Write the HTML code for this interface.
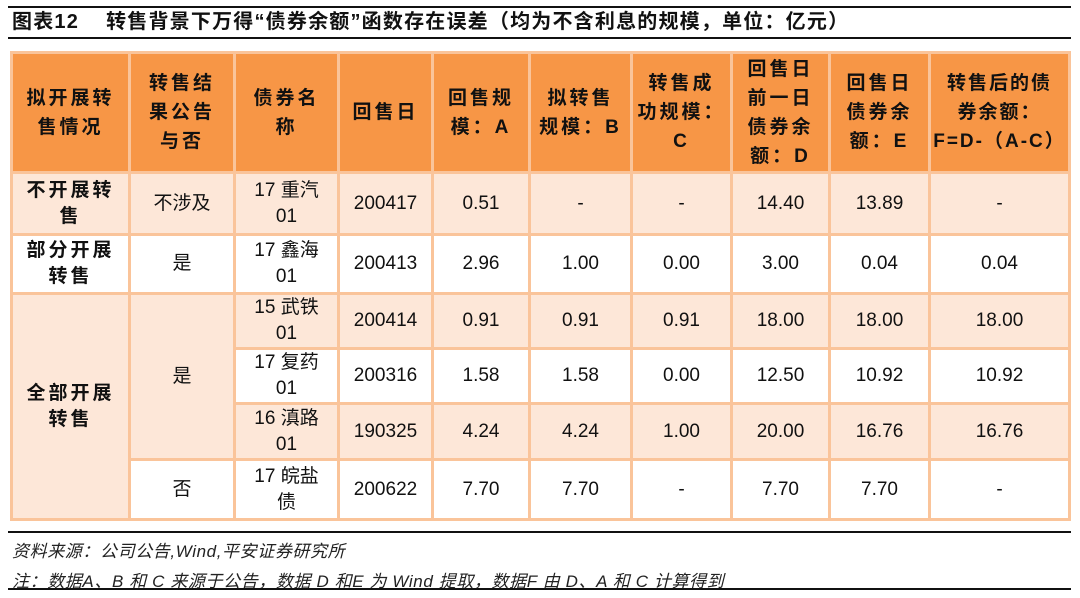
<!DOCTYPE html>
<html><head><meta charset="utf-8"><style>
body{margin:0;width:1080px;height:598px;background:#fff;position:relative;overflow:hidden;font-family:"Liberation Sans","Noto Sans CJK SC",sans-serif;color:#111}
.line{position:absolute;left:8px;width:1063px;background:#111}
.title{position:absolute;left:12px;top:9px;font-size:20px;font-weight:bold;line-height:26px;white-space:nowrap;letter-spacing:1.2px}
table{position:absolute;left:10px;top:51px;width:1058px;border-collapse:collapse;table-layout:fixed}
td{border:3px solid #fac49a;text-align:center;vertical-align:middle;font-size:19px;line-height:26px;padding:0 2px;background:#fff;overflow:hidden}
tr.h td{background:#f79646;font-weight:bold;letter-spacing:3px;line-height:29px}
.l{background:#fde7d8}
.b{font-weight:bold;letter-spacing:3px}
.note{position:absolute;left:12px;font-size:17px;font-style:italic;white-space:nowrap;color:#222;letter-spacing:0.6px}
</style></head><body>
<div class="line" style="top:6px;height:2px"></div>
<div class="title">图表12&nbsp;&nbsp;&nbsp;&nbsp;转售背景下万得“债券余额”函数存在误差（均为不含利息的规模，单位：亿元）</div>
<div class="line" style="top:37px;height:2px"></div>
<table>
<colgroup><col style="width:118px"><col style="width:105px"><col style="width:104px"><col style="width:94px"><col style="width:97px"><col style="width:102px"><col style="width:100px"><col style="width:98px"><col style="width:100px"><col style="width:140px"></colgroup>
<tr class="h" style="height:120px"><td>拟开展转<br>售情况</td><td>转售结<br>果公告<br>与否</td><td>债券名<br>称</td><td>回售日</td><td>回售规<br>模：A</td><td>拟转售<br>规模：B</td><td>转售成<br>功规模：<br>C</td><td>回售日<br>前一日<br>债券余<br>额：D</td><td>回售日<br>债券余<br>额：E</td><td style="letter-spacing:2px">转售后的债<br>券余额：<br>F=D-（A-C）</td></tr>
<tr class="l" style="height:62px"><td class="l b">不开展转<br>售</td><td class="l">不涉及</td><td class="l">17 重汽<br>01</td><td class="l">200417</td><td class="l">0.51</td><td class="l">-</td><td class="l">-</td><td class="l">14.40</td><td class="l">13.89</td><td class="l">-</td></tr>
<tr style="height:59px"><td class="b">部分开展<br>转售</td><td>是</td><td>17 鑫海<br>01</td><td>200413</td><td>2.96</td><td>1.00</td><td>0.00</td><td>3.00</td><td>0.04</td><td>0.04</td></tr>
<tr style="height:55px"><td class="l b" rowspan="4">全部开展<br>转售</td><td class="l" rowspan="3">是</td><td class="l">15 武铁<br>01</td><td class="l">200414</td><td class="l">0.91</td><td class="l">0.91</td><td class="l">0.91</td><td class="l">18.00</td><td class="l">18.00</td><td class="l">18.00</td></tr>
<tr style="height:55px"><td>17 复药<br>01</td><td>200316</td><td>1.58</td><td>1.58</td><td>0.00</td><td>12.50</td><td>10.92</td><td>10.92</td></tr>
<tr style="height:56px"><td class="l">16 滇路<br>01</td><td class="l">190325</td><td class="l">4.24</td><td class="l">4.24</td><td class="l">1.00</td><td class="l">20.00</td><td class="l">16.76</td><td class="l">16.76</td></tr>
<tr style="height:60px"><td>否</td><td>17 皖盐<br>债</td><td>200622</td><td>7.70</td><td>7.70</td><td>-</td><td>7.70</td><td>7.70</td><td>-</td></tr>
</table>
<div class="line" style="top:531px;height:2px"></div>
<div class="note" style="top:537px">资料来源：公司公告,Wind,平安证券研究所</div>
<div class="note" style="top:567px">注：数据A、B 和 C 来源于公告，数据 D 和E 为 Wind 提取，数据F 由 D、A 和 C 计算得到</div>
<div class="line" style="top:588px;height:2px"></div>
</body></html>
